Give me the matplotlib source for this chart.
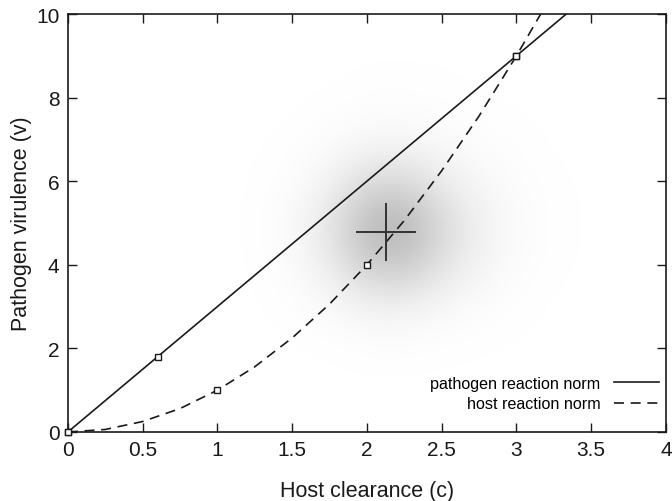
import matplotlib
matplotlib.use("Agg")
import matplotlib.pyplot as plt
import numpy as np
from matplotlib.colors import LinearSegmentedColormap, PowerNorm

plt.rcParams['font.family'] = ['Liberation Sans', 'DejaVu Sans']

# reaction norms
path_c = [0, 3.333]
path_v = [0, 10]
path_pts_c = [0, 0.6, 3]
path_pts_v = [0, 1.8, 9]

host_c = [0, 0.25, 0.5, 0.75, 1, 1.25, 1.5, 1.75, 2, 2.25, 2.5, 2.75, 3, 3.162]
host_v = [0, 0.06, 0.25, 0.56, 1, 1.56, 2.25, 3.06, 4, 5.06, 6.25, 7.56, 9, 10]
host_pts_c = [0, 1, 2, 3]
host_pts_v = [0, 1, 4, 9]

# mean and spread of simulated population (the cross)
mean_c, mean_v = 2.13, 4.78
err_c, err_v = 0.2, 0.7

# relative density of the point cloud, estimated on a coarse grid
cloud_c = [1.0, 1.25, 1.5, 1.75, 2.0, 2.25, 2.5, 2.75, 3.0, 3.25, 3.5]
cloud_v = [1, 2, 3, 4, 5, 6, 7, 8, 9]
cloud_density = [
    [0, 0, 0, 0, 0, 0, 0, 0, 0, 0, 0],
    [0, 0, .01, .02, .05, .05, .03, .02, .01, 0, 0],
    [0, .01, .05, .14, .27, .29, .18, .09, .04, .01, 0],
    [0, .02, .12, .36, .72, .76, .48, .24, .10, .03, .01],
    [0, .03, .15, .45, .90, .95, .60, .30, .12, .04, .01],
    [0, .02, .09, .27, .54, .57, .36, .18, .08, .03, .01],
    [0, .01, .03, .09, .18, .19, .13, .07, .04, .01, 0],
    [0, 0, .01, .02, .05, .05, .04, .02, .01, 0, 0],
    [0, 0, 0, 0, .01, .01, .01, 0, 0, 0, 0],
]

fig, ax = plt.subplots(figsize=(6.72, 5.02), dpi=100)
fig.subplots_adjust(left=0.101, right=0.991, bottom=0.1375, top=0.970)

cmap = LinearSegmentedColormap.from_list('cloud', ['#ffffff', '#acacac'])
dc = cloud_c[1] - cloud_c[0]
dv = cloud_v[1] - cloud_v[0]
ax.imshow(np.array(cloud_density), origin='lower', cmap=cmap,
          norm=PowerNorm(gamma=1.4, vmin=0, vmax=1, clip=True),
          interpolation='bicubic', aspect='auto', zorder=0,
          extent=(cloud_c[0] - dc / 2, cloud_c[-1] + dc / 2,
                  cloud_v[0] - dv / 2, cloud_v[-1] + dv / 2))

ax.plot(path_c, path_v, '-', color='#1a1a1a', lw=1.2, label='pathogen reaction norm')
ax.plot(host_c, host_v, '--', color='#1a1a1a', lw=1.2, dashes=(6, 4), label='host reaction norm')
ax.plot(path_pts_c, path_pts_v, 's', ms=4.5, mfc='white', mec='#1a1a1a', mew=1, clip_on=False, zorder=4)
ax.plot(host_pts_c, host_pts_v, 's', ms=4.5, mfc='white', mec='#1a1a1a', mew=1, clip_on=False, zorder=4)

ax.errorbar([mean_c], [mean_v], xerr=[err_c], yerr=[err_v], fmt='none',
            ecolor='#333333', elinewidth=1.4, capsize=0, zorder=5)

ax.set_xlim(0, 4)
ax.set_ylim(0, 10)
ax.set_xticks(np.arange(0, 4.01, 0.5))
ax.set_xticklabels(['0', '0.5', '1', '1.5', '2', '2.5', '3', '3.5', '4'])
ax.set_yticks(np.arange(0, 10.1, 2))
ax.tick_params(direction='in', length=6.5, width=1, top=True, right=True,
               labelsize=15, pad=6, colors='#1a1a1a')
for s in ax.spines.values():
    s.set_linewidth(1.2)
    s.set_color('#1a1a1a')

ax.set_xlabel('Host clearance (c)', fontsize=15.5, labelpad=15, color='#1a1a1a')
ax.set_ylabel('Pathogen virulence (v)', fontsize=15.5, labelpad=3, color='#1a1a1a')

ax.legend(loc='lower right', frameon=False, markerfirst=False, fontsize=11.6,
          handlelength=2.8, handletextpad=0.8, labelspacing=0.35,
          bbox_to_anchor=(1.012, 0.015))

fig.savefig('out.png', dpi=100)
